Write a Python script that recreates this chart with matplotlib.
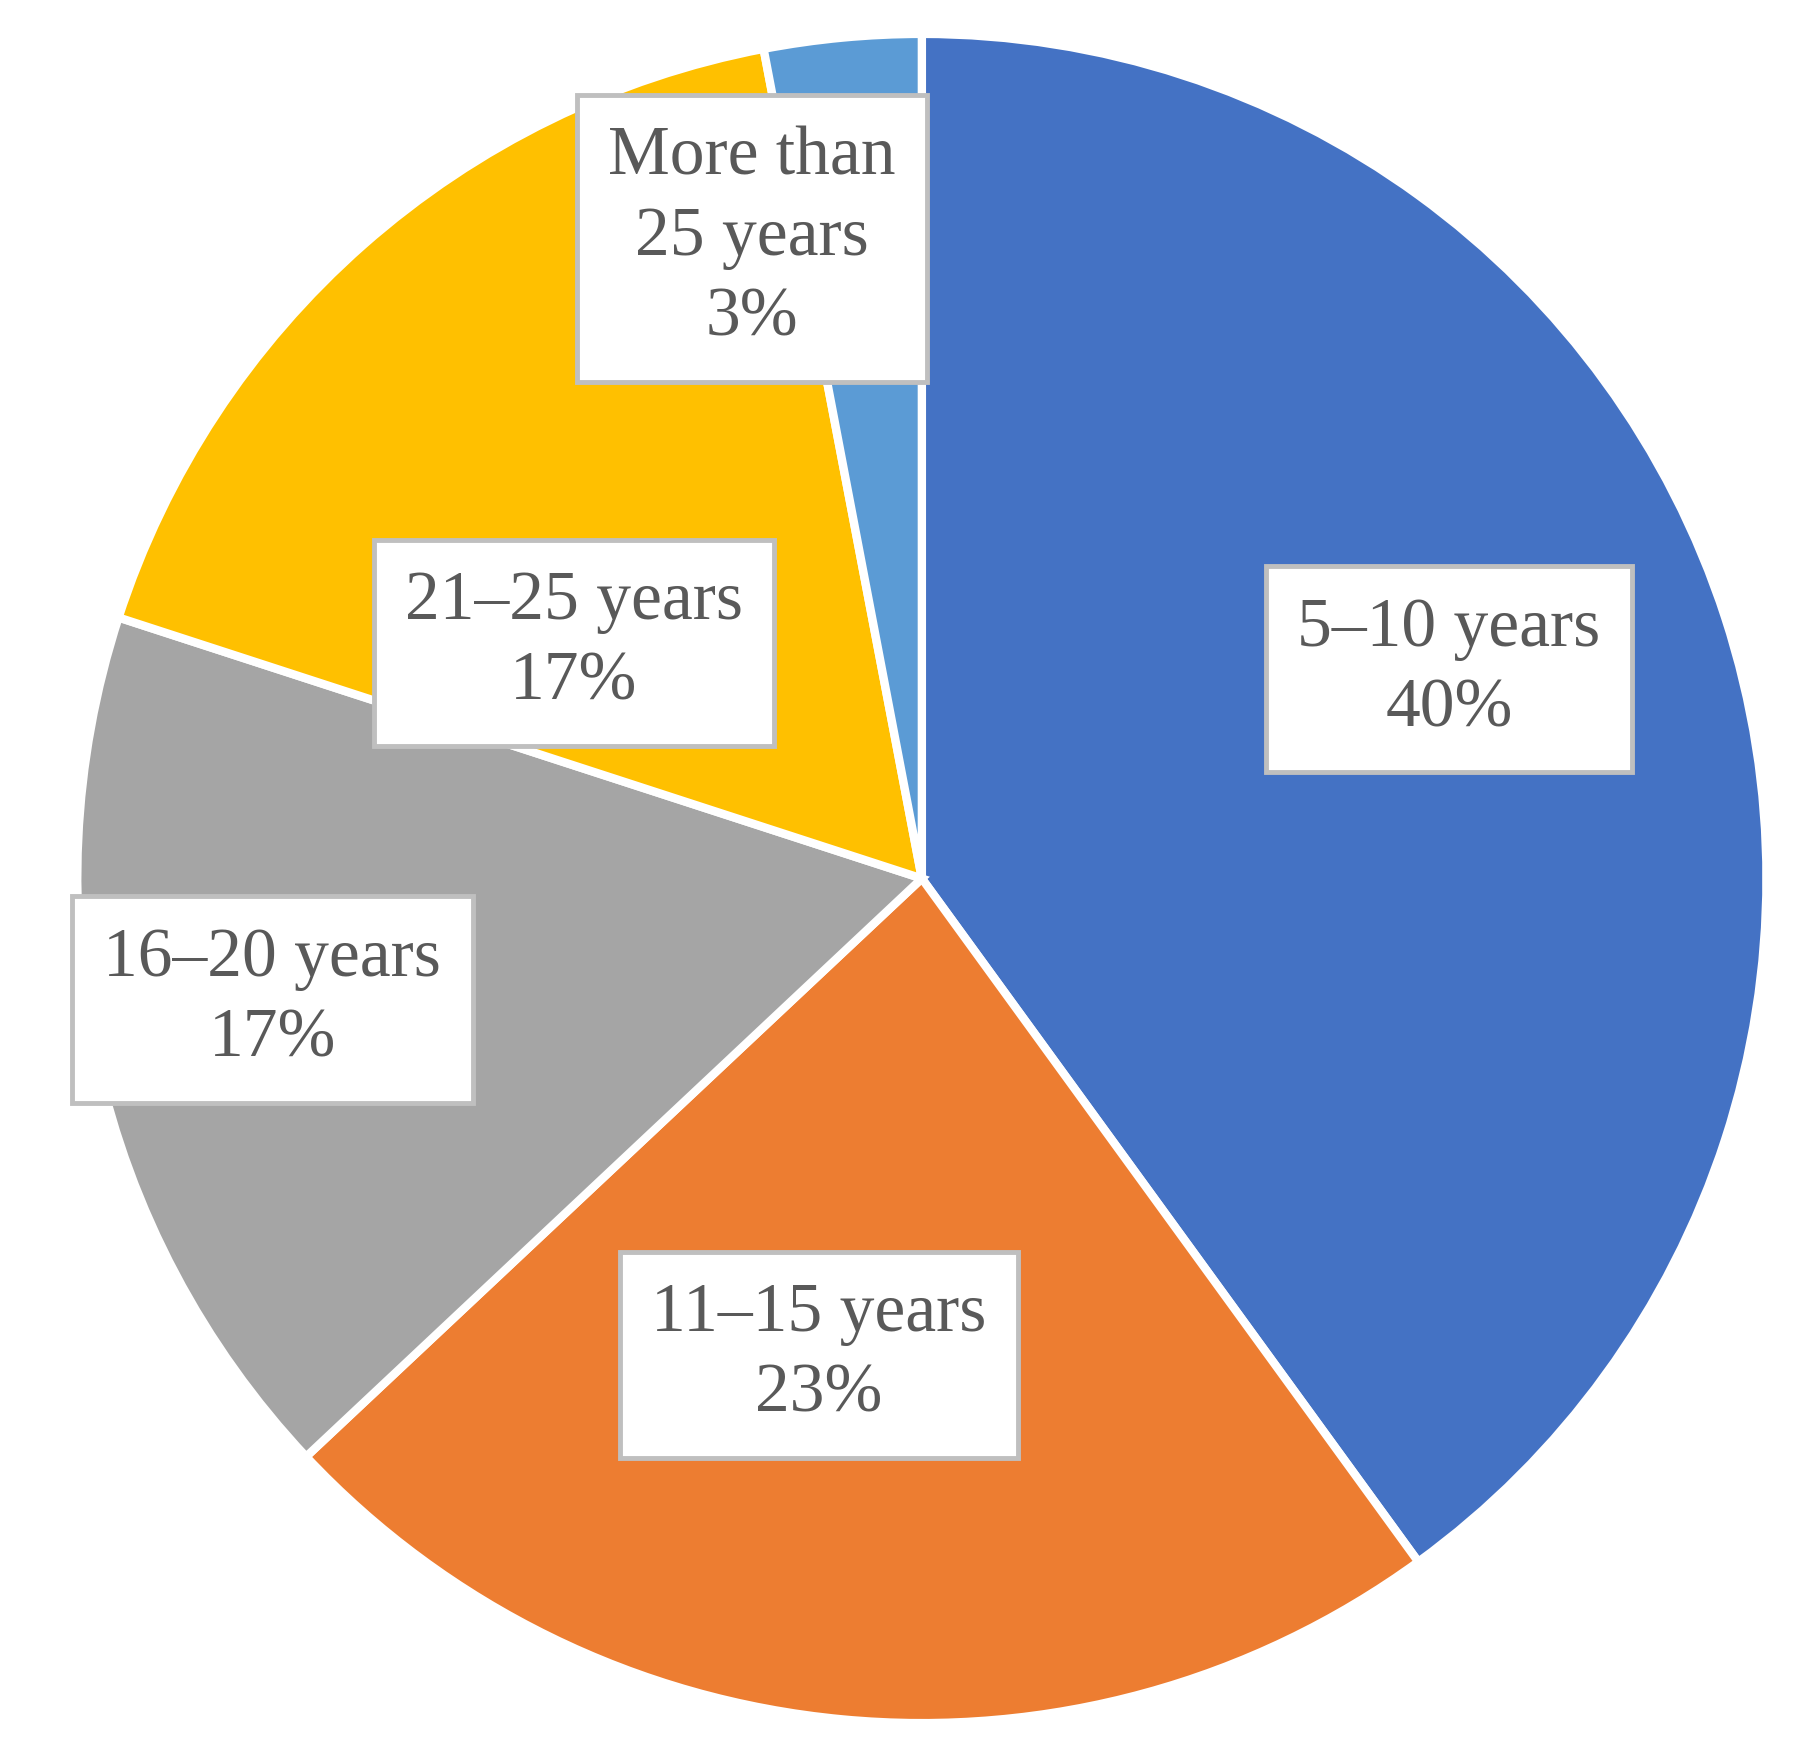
import matplotlib
matplotlib.use("Agg")
import matplotlib.pyplot as plt

categories = ["5–10 years", "11–15 years", "16–20 years", "21–25 years", "More than\n25 years"]
shares = [40, 23, 17, 17, 3]
colors = ["#4472C4", "#ED7D31", "#A5A5A5", "#FFC000", "#5B9BD5"]
# label anchor points, in units of the pie radius
label_xy = [(0.624, 0.248), (-0.122, -0.564), (-0.769, -0.143), (-0.412, 0.279), (-0.201, 0.758)]

fig = plt.figure(figsize=(17.97, 17.5), dpi=100)
ax = fig.add_axes([0.513 - 0.47, 0.498 - 0.483, 0.94, 0.966])
ax.pie(shares, colors=colors, startangle=90, counterclock=False,
       wedgeprops=dict(edgecolor="white", linewidth=6))
ax.set_xlim(-1, 1)
ax.set_ylim(-1, 1)
ax.set_aspect("equal")

for name, val, (x, y) in zip(categories, shares, label_xy):
    ax.text(x, y, f"{name}\n{val}%", ha="center", va="center", fontsize=50,
            family="Liberation Serif", color="#595959", linespacing=1.35,
            bbox=dict(boxstyle="square,pad=0.45", facecolor="white",
                      edgecolor="#BFBFBF", linewidth=3.5))

fig.savefig("out.png", dpi=100, facecolor="white")
